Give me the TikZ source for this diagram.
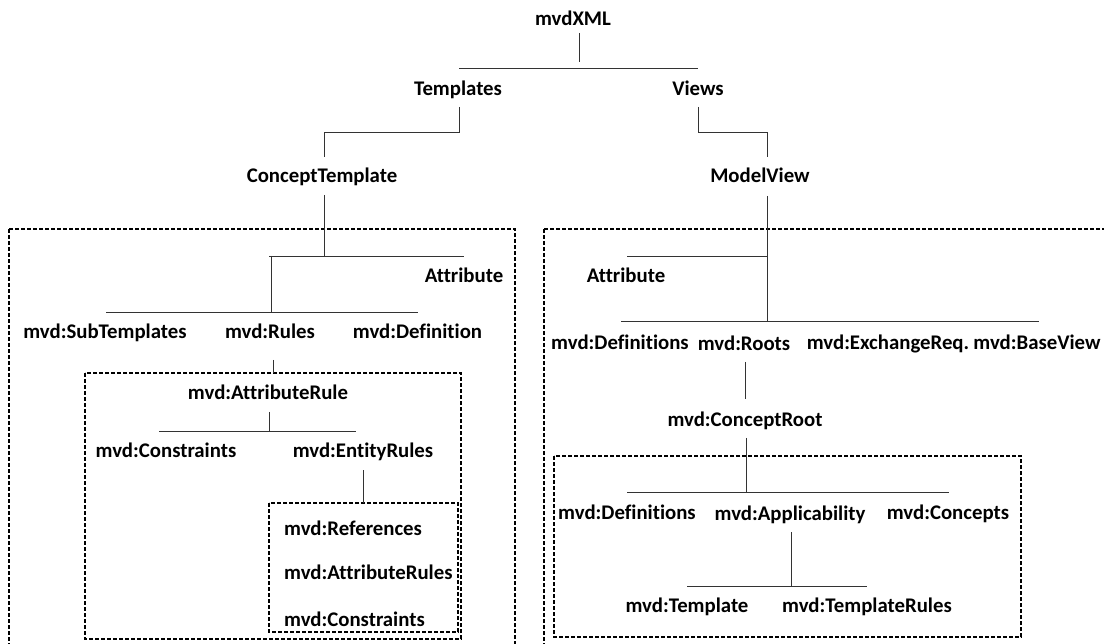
\documentclass[tikz,border=0pt]{standalone}
\usepackage{fontspec}
\setmainfont{Carlito}[Ligatures={NoCommon}]
\begin{document}
\begin{tikzpicture}[x=1pt,y=-1pt,
  lbl/.style={font=\fontsize{20.8}{25}\selectfont\bfseries, inner sep=0pt, anchor=base},
  lbll/.style={lbl, anchor=base west},
  tree/.style={draw=black!80, line width=0.9pt},
  frame/.style={draw=black, line width=1.1pt, dash pattern=on 4pt off 2pt}]
\useasboundingbox (0,0) rectangle (1104,644);
\clip (0,0) rectangle (1104,644);

% ---------- upper levels ----------
\node[lbl] (mvdxml)   at (573,25.5)  {mvdXML};
\node[lbl] (templ)    at (458,95.5) {Templates};
\node[lbl] (views)    at (698,95.5) {Views};
\node[lbl] (ctempl)   at (322,183) {ConceptTemplate};
\node[lbl] (mview)    at (760,183) {ModelView};

\coordinate (r0a) at (579,33);  \coordinate (r0b) at (579,62);
\coordinate (r1a) at (459,68);  \coordinate (r1b) at (698,68);
\draw[tree] (r0a) -- (r0b);
\draw[tree] (r1a) -- (r1b);

\coordinate (t0) at (459,107);  \coordinate (t1) at (324,132);  \coordinate (t2) at (324,157);
\draw[tree] (t0) |- (t1) -- (t2);
\coordinate (v0) at (698,107);  \coordinate (v1) at (767,132);  \coordinate (v2) at (767,157);
\draw[tree] (v0) |- (v1) -- (v2);

% ---------- ConceptTemplate frame ----------
\draw[frame] (9,229) rectangle (515,700);

\node[lbl] (cattr)  at (464,282.5) {Attribute};
\node[lbl] (subt)   at (105,338.5) {mvd:SubTemplates};
\node[lbl] (rules)  at (270,338.5) {mvd:Rules};
\node[lbl] (cdef)   at (417.5,338.5) {mvd:Definition};

\coordinate (c0) at (324,195);  \coordinate (c1) at (324,256);
\coordinate (c2) at (269,256);  \coordinate (c3) at (464,256);
\coordinate (c4) at (271,256);  \coordinate (c5) at (271,312);
\coordinate (c6) at (106,312);  \coordinate (c7) at (418,312);
\draw[tree] (c0) -- (c1);
\draw[tree] (c2) -- (c3);
\draw[tree] (c4) -- (c5);
\draw[tree] (c6) -- (c7);

% rules frame
\draw[frame] (85,373) rectangle (461,639);
\coordinate (ru0) at (273,360);  \coordinate (ru1) at (273,373);
\draw[tree] (ru0) -- (ru1);

\node[lbl] (arule)  at (268,399.5) {mvd:AttributeRule};
\node[lbl] (acons)  at (166,457.5) {mvd:Constraints};
\node[lbl] (erules) at (363,457.5) {mvd:EntityRules};
\coordinate (a0) at (269,412);  \coordinate (a1) at (269,431);
\coordinate (a2) at (159,431);  \coordinate (a3) at (356,431);
\draw[tree] (a0) -- (a1);
\draw[tree] (a2) -- (a3);

% entity rules frame
\draw[frame] (269,503) rectangle (458,632);
\coordinate (e0) at (363,470);  \coordinate (e1) at (363,503);
\draw[tree] (e0) -- (e1);
\node[lbll] (eref)  at (284,535.5) {mvd:References};
\node[lbll] (eattr) at (284,579.5) {mvd:AttributeRules};
\node[lbll] (econs) at (284,626.5) {mvd:Constraints};

% ---------- ModelView frame ----------
\draw[frame] (544,229) rectangle (1200,700);

\node[lbl] (vattr)  at (626,282.5) {Attribute};
\node[lbl] (vdefs)  at (620,349.5) {mvd:Definitions};
\node[lbl] (roots)  at (744,350.5) {mvd:Roots};
\node[lbl] (exreq)  at (888,349.5) {mvd:ExchangeReq.};
\node[lbl] (bview)  at (1037,349.5) {mvd:BaseView};

\coordinate (m0) at (767,196);  \coordinate (m1) at (767,321);
\coordinate (m2) at (627,256);  \coordinate (m3) at (767,256);
\coordinate (m4) at (621,321);  \coordinate (m5) at (1039,321);
\draw[tree] (m0) -- (m1);
\draw[tree] (m2) -- (m3);
\draw[tree] (m4) -- (m5);

\node[lbl] (croot)  at (745,426.5) {mvd:ConceptRoot};
\coordinate (o0) at (745,362);  \coordinate (o1) at (745,399);
\draw[tree] (o0) -- (o1);

% concept root frame
\draw[frame] (554,456) rectangle (1021,637);
\coordinate (k0) at (746,438);  \coordinate (k1) at (746,492);
\coordinate (k2) at (627,492);  \coordinate (k3) at (949,492);
\draw[tree] (k0) -- (k1);
\draw[tree] (k2) -- (k3);

\node[lbl] (kdefs)  at (627,519.5) {mvd:Definitions};
\node[lbl] (appl)   at (790,520.5) {mvd:Applicability};
\node[lbl] (conc)   at (948,519.5) {mvd:Concepts};

\coordinate (p0) at (791,532);  \coordinate (p1) at (791,586);
\coordinate (p2) at (687,586);  \coordinate (p3) at (867,586);
\draw[tree] (p0) -- (p1);
\draw[tree] (p2) -- (p3);

\node[lbl] (tmpl)   at (687,612.5) {mvd:Template};
\node[lbl] (trules) at (867,612.5) {mvd:TemplateRules};
\end{tikzpicture}
\end{document}
